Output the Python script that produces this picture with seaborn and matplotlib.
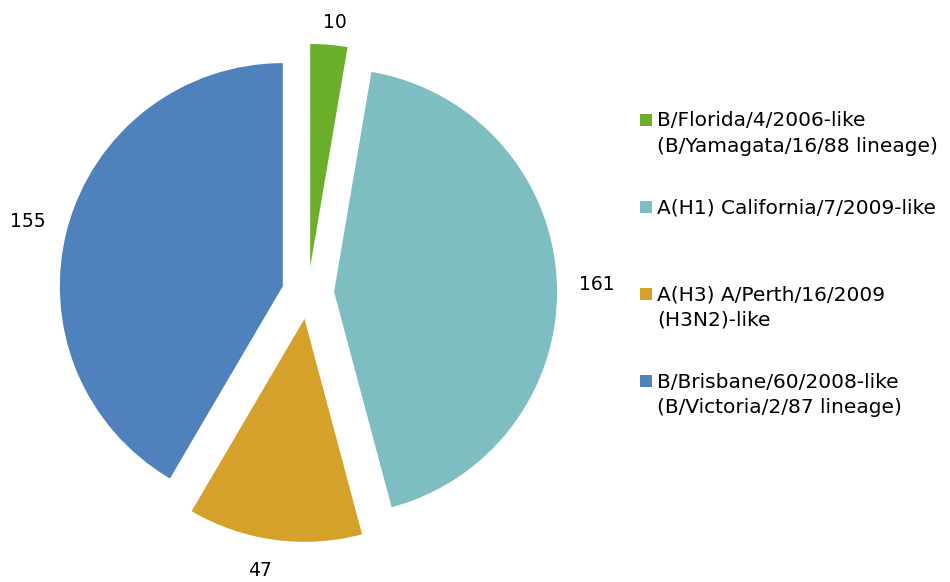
import matplotlib
matplotlib.use("Agg")
import matplotlib.pyplot as plt
import matplotlib.patches as mpatches
import seaborn as sns

# data
strains = [
    "B/Florida/4/2006-like\n(B/Yamagata/16/88 lineage)",
    "A(H1) California/7/2009-like",
    "A(H3) A/Perth/16/2009\n(H3N2)-like",
    "B/Brisbane/60/2008-like\n(B/Victoria/2/87 lineage)",
]
counts = [10, 161, 47, 155]
colors = ["#6BAE2A", "#7EBEC2", "#D5A12A", "#4F81BD"]

sns.set_style("white")
plt.rcParams["font.family"] = ["DejaVu Sans"]

W, H = 950, 582
fig = plt.figure(figsize=(W / 100, H / 100), dpi=100)
ax = fig.add_axes([0.0425, -0.0015, 0.5634, 0.9962])

wedges, texts = ax.pie(
    counts,
    colors=colors,
    startangle=90,
    counterclock=False,
    explode=[0.117] * len(counts),
    labels=[str(c) for c in counts],
    labeldistance=1.1,
    wedgeprops={"linewidth": 0},
    textprops={"fontsize": 13.5, "color": "black"},
)
# small nudges so the value labels sit where the original put them
texts[0].set_x(texts[0].get_position()[0] - 0.035)
texts[1].set_y(texts[1].get_position()[1] - 0.02)
texts[2].set_y(texts[2].get_position()[1] - 0.04)

ax.set_xlim(-1.2, 1.2)
ax.set_ylim(-1.3, 1.3)
ax.set_aspect("equal")
ax.axis("off")

# legend drawn by hand so the marker lines up with the first text line
box = 12
for i, (c, s) in enumerate(zip(colors, strains)):
    yc = 120 + 87 * i
    fig.patches.append(mpatches.Rectangle(
        (640 / W, 1 - (yc + box / 2) / H), box / W, box / H,
        transform=fig.transFigure, color=c, linewidth=0))
    fig.text(657 / W, 1 - (yc - 8.5) / H, s, fontsize=14.5, color="black",
             va="top", ha="left", linespacing=1.42)

plt.savefig("out.png", dpi=100)
